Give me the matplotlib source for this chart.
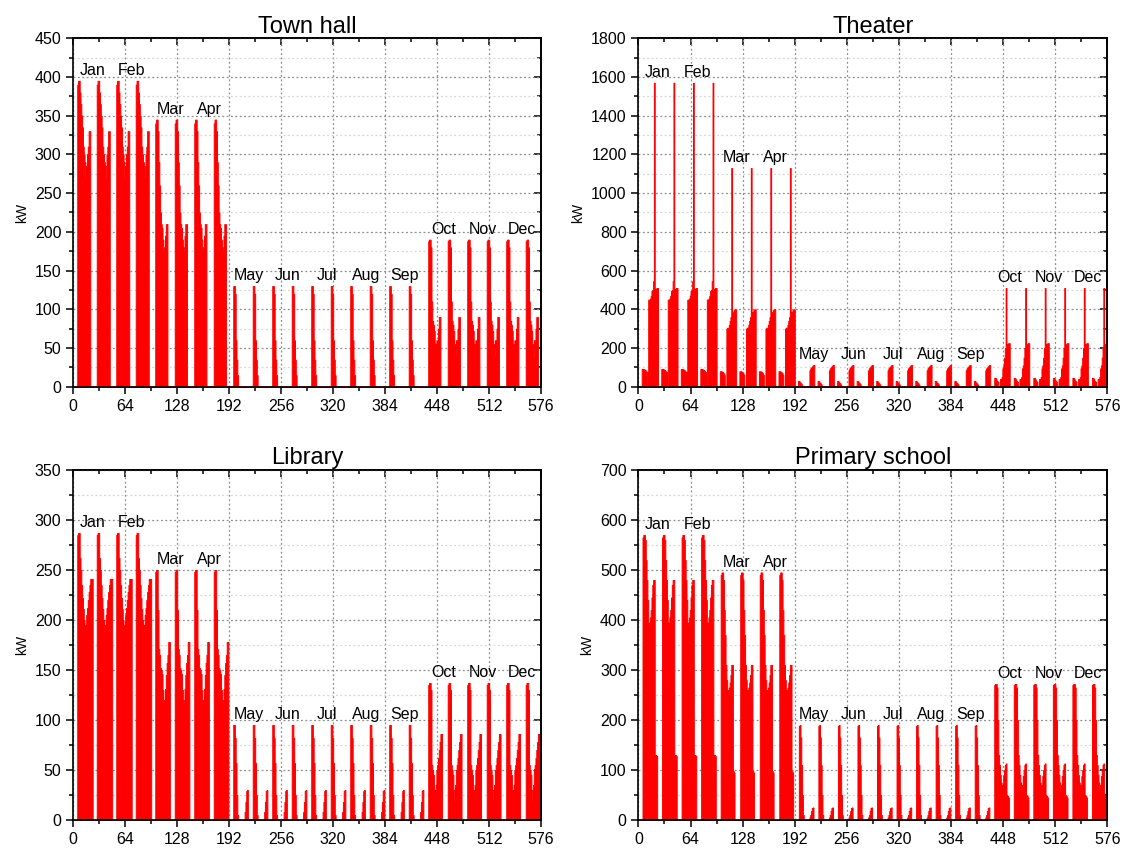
import numpy as np
import matplotlib.pyplot as plt
from matplotlib.ticker import MultipleLocator, NullFormatter

plt.rcParams['font.family'] = ['Liberation Sans', 'DejaVu Sans']

# Month names and the representative season each month uses (two days per month)
months = ["Jan", "Feb", "Mar", "Apr", "May", "Jun",
          "Jul", "Aug", "Sep", "Oct", "Nov", "Dec"]
month_season = ["winter", "winter", "spring", "spring", "summer", "summer",
                "summer", "summer", "summer", "autumn", "autumn", "autumn"]
days_per_month = 2

# Hourly load profiles (kW) for hours 0..23 of a representative day
town_hall_winter = [0, 0, 0, 0, 0, 390, 395, 395, 380, 365, 350, 335,
                    310, 300, 290, 270, 285, 300, 310, 330, 330, 0, 0, 0]
town_hall_spring = [0, 0, 0, 0, 0, 340, 345, 345, 330, 290, 260, 225,
                    210, 205, 190, 175, 180, 195, 210, 210, 0, 0, 0, 0]
town_hall_summer = [0, 0, 0, 0, 0, 130, 130, 120, 60, 35, 15, 0,
                    0, 0, 0, 0, 0, 0, 0, 0, 0, 0, 0, 0]
town_hall_autumn = [0, 0, 0, 0, 0, 188, 190, 190, 180, 110, 85, 80,
                    72, 55, 40, 60, 50, 75, 90, 90, 0, 0, 0, 0]

theater_winter = [0, 0, 0, 0, 92, 92, 90, 88, 85, 80, 75, 0,
                  450, 450, 455, 470, 495, 500, 545, 1570, 505, 505, 510, 510]
theater_spring = [0, 0, 0, 0, 80, 80, 78, 75, 70, 62, 0, 0,
                  300, 305, 305, 320, 340, 360, 1130, 380, 385, 395, 400, 400]
theater_summer = [0, 0, 0, 0, 30, 28, 22, 18, 12, 0, 0, 0,
                  0, 0, 0, 0, 0, 0, 85, 95, 100, 105, 110, 112]
theater_autumn = [0, 0, 0, 0, 0, 46, 45, 38, 30, 26, 0, 0,
                  40, 40, 50, 95, 110, 150, 200, 510, 215, 220, 225, 225]

library_winter = [0, 0, 0, 0, 0, 285, 287, 287, 262, 250, 235, 222,
                  211, 200, 189, 195, 205, 212, 220, 228, 235, 241, 241, 241]
library_spring = [0, 0, 0, 0, 0, 248, 250, 250, 210, 171, 165, 152,
                  150, 146, 130, 117, 120, 131, 145, 157, 165, 178, 178, 0]
library_summer = [0, 0, 0, 0, 0, 95, 95, 82, 57, 25, 5, 0,
                  0, 0, 0, 0, 0, 0, 0, 8, 18, 29, 30, 0]
library_autumn = [0, 0, 0, 0, 0, 135, 137, 137, 130, 55, 50, 45,
                  30, 20, 35, 50, 55, 62, 70, 78, 86, 86, 0, 0]

school_winter = [0, 0, 0, 0, 0, 565, 570, 570, 560, 520, 480, 440,
                 395, 390, 405, 420, 445, 470, 480, 480, 130, 130, 128, 0]
school_spring = [0, 0, 0, 0, 0, 490, 495, 495, 480, 420, 370, 310,
                 280, 260, 260, 265, 275, 290, 310, 310, 98, 95, 0, 0]
school_summer = [0, 0, 0, 0, 0, 188, 190, 165, 110, 50, 10, 0,
                 0, 0, 0, 0, 0, 0, 5, 10, 18, 24, 25, 0]
school_autumn = [0, 0, 0, 0, 0, 270, 272, 272, 265, 200, 130, 110,
                 90, 75, 62, 70, 88, 100, 110, 113, 50, 48, 45, 0]

buildings = [
    ("Town hall", {"winter": town_hall_winter, "spring": town_hall_spring,
                   "summer": town_hall_summer, "autumn": town_hall_autumn}, 450, 50),
    ("Theater", {"winter": theater_winter, "spring": theater_spring,
                 "summer": theater_summer, "autumn": theater_autumn}, 1800, 200),
    ("Library", {"winter": library_winter, "spring": library_spring,
                 "summer": library_summer, "autumn": library_autumn}, 350, 50),
    ("Primary school", {"winter": school_winter, "spring": school_spring,
                        "summer": school_summer, "autumn": school_autumn}, 700, 100),
]


def build_series(profiles):
    """ Chain the seasonal day profiles into one hourly series over the year """
    series = []
    for season in month_season:
        for _ in range(days_per_month):
            series.extend(profiles[season])
    return np.array(series, dtype=float)


def style_axes(ax, ymax, ystep):
    n_hours = 24 * days_per_month * len(months)
    ax.set_xlim(0, n_hours)
    ax.set_ylim(0, ymax)
    ax.xaxis.set_major_locator(MultipleLocator(64))
    ax.xaxis.set_minor_locator(MultipleLocator(32))
    ax.yaxis.set_major_locator(MultipleLocator(ystep))
    ax.yaxis.set_minor_locator(MultipleLocator(ystep / 2))
    ax.tick_params(which='both', direction='out', labelsize=11.5, width=1.1)
    ax.tick_params(which='major', length=5)
    ax.tick_params(which='minor', length=3)
    ax.set_axisbelow(True)
    ax.grid(which='major', linestyle=(0, (1.5, 2)), color='#8c8c8c', lw=0.9)
    ax.grid(which='minor', axis='y', linestyle=(0, (1.5, 2)), color='#d6d6d6', lw=0.9)
    for spine in ax.spines.values():
        spine.set_linewidth(1.2)

    # Inward ticks on the top and right edges
    top = ax.secondary_xaxis('top')
    top.xaxis.set_major_locator(MultipleLocator(64))
    top.xaxis.set_minor_locator(MultipleLocator(32))
    top.xaxis.set_major_formatter(NullFormatter())
    top.tick_params(which='both', direction='in', width=1.1)
    top.tick_params(which='major', length=5)
    top.tick_params(which='minor', length=3)
    top.spines['top'].set_linewidth(1.2)

    right = ax.secondary_yaxis('right')
    right.yaxis.set_major_locator(MultipleLocator(ystep))
    right.yaxis.set_minor_locator(MultipleLocator(ystep / 2))
    right.yaxis.set_major_formatter(NullFormatter())
    right.tick_params(which='both', direction='in', width=1.1)
    right.tick_params(which='major', length=5)
    right.tick_params(which='minor', length=3)
    right.spines['right'].set_linewidth(1.2)


fig = plt.figure(figsize=(11.26, 8.5), dpi=100)
positions = [
    [0.065, 0.545, 0.4156, 0.410],
    [0.567, 0.545, 0.4165, 0.410],
    [0.065, 0.0353, 0.4156, 0.4118],
    [0.567, 0.0353, 0.4165, 0.4118],
]

hours_per_month = 24 * days_per_month
for pos, (name, profiles, ymax, ystep) in zip(positions, buildings):
    ax = fig.add_axes(pos)
    load = build_series(profiles)
    x = np.arange(len(load) + 1)
    y = np.append(load, load[-1])
    ax.fill_between(x, y, step='post', facecolor='#ff0000',
                    edgecolor='#ff0000', linewidth=0.7)
    style_axes(ax, ymax, ystep)
    ax.set_title(name, fontsize=17, pad=4)
    ax.set_ylabel("kW", fontsize=10, labelpad=4)

    # Month name above the highest value of each month
    for i, month in enumerate(months):
        chunk = load[i * hours_per_month:(i + 1) * hours_per_month]
        ax.annotate(month, xy=(i * hours_per_month + hours_per_month / 2, chunk.max()),
                    xytext=(0, 2), textcoords='offset points',
                    ha='center', va='bottom', fontsize=11.5)

fig.savefig("out.png", dpi=100)
